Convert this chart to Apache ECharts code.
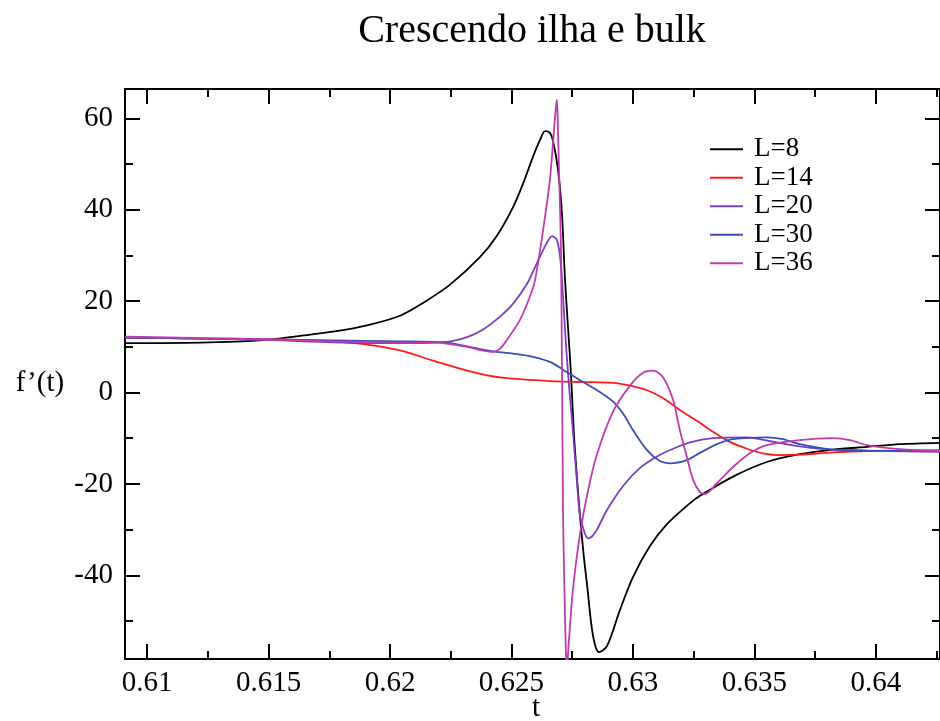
<!DOCTYPE html>
<html>
<head>
<meta charset="utf-8">
<script src="https://cdn.jsdelivr.net/npm/echarts@6/dist/echarts.min.js"></script>
<style>
  html, body { margin: 0; padding: 0; background: #fff; }
  #chart { width: 940px; height: 721px; }
</style>
</head>
<body>
<div id="chart"></div>
<script>
// Axis ranges and tick positions
const tMin = 0.60909, tMax = 0.64264;
const fMin = -58.3, fMax = 66.4;
const xMajorTicks = [0.61, 0.615, 0.62, 0.625, 0.63, 0.635, 0.64];
const xMinorTicks = [0.6125, 0.6175, 0.6225, 0.6275, 0.6325, 0.6375, 0.6425];
const yMajorTicks = [-40, -20, 0, 20, 40, 60];
const yMinorTicks = [-50, -30, -10, 10, 30, 50];

const seriesNames = ['L=8', 'L=14', 'L=20', 'L=30', 'L=36'];
const seriesColors = ['#000000', '#ff1a1a', '#7b3fc2', '#3b4db8', '#c03cac'];

// L=8
const tL8 = [0.60910, 0.61218, 0.61494, 0.61630, 0.61765, 0.61905, 0.62041, 0.62136, 0.62247, 0.62370,
  0.62440, 0.62506, 0.62547, 0.62588, 0.62617, 0.62638, 0.62658, 0.62671, 0.62691, 0.62708,
  0.62720, 0.62733, 0.62745, 0.62757, 0.62770, 0.62782, 0.62798, 0.62811, 0.62835, 0.62860,
  0.62893, 0.62947, 0.63000, 0.63070, 0.63140, 0.63235, 0.63276, 0.63412, 0.63551, 0.63687,
  0.63823, 0.63963, 0.64099, 0.64263];
const fL8 = [10.8, 10.9, 11.5, 12.4, 13.3, 14.7, 16.8, 19.6, 23.6, 29.6,
  34.3, 40.5, 45.6, 51.5, 55.2, 57.2, 56.8, 55.0, 49.0, 39.0,
  25.0, 14.0, 4.0, -9.0, -19.0, -27.0, -36.0, -42.0, -53.0, -56.8,
  -55.5, -47.5, -40.4, -33.6, -28.8, -24.2, -22.6, -18.4, -15.2, -13.5,
  -12.5, -11.9, -11.3, -11.0];

// L=14
const tL14 = [0.60910, 0.61218, 0.61494, 0.61630, 0.61765, 0.61905, 0.62041, 0.62177, 0.62317, 0.62453,
  0.62658, 0.62782, 0.62918, 0.62988, 0.63058, 0.63123, 0.63193, 0.63263, 0.63329, 0.63399,
  0.63469, 0.63535, 0.63605, 0.63687, 0.63823, 0.63963, 0.64263];
const fL14 = [12.0, 11.8, 11.7, 11.5, 11.2, 10.5, 9.2, 7.0, 4.8, 3.3,
  2.5, 2.3, 2.1, 1.5, 0.5, -1.2, -3.8, -6.2, -8.6, -10.8,
  -12.3, -13.3, -13.7, -13.6, -13.1, -12.8, -12.6];

// L=20
const tL20 = [0.60910, 0.61218, 0.61494, 0.61765, 0.62041, 0.62235, 0.62317, 0.62383, 0.62453, 0.62506,
  0.62564, 0.62609, 0.62646, 0.62667, 0.62687, 0.62700, 0.62708, 0.62720, 0.62733, 0.62749,
  0.62770, 0.62782, 0.62802, 0.62815, 0.62831, 0.62852, 0.62893, 0.62959, 0.63029, 0.63099,
  0.63165, 0.63235, 0.63329, 0.63469, 0.63551, 0.63687, 0.63823, 0.64263];
const fL20 = [12.0, 11.8, 11.5, 11.0, 10.8, 11.1, 12.1, 13.8, 16.6, 19.4,
  23.8, 28.8, 32.8, 34.2, 33.4, 29.6, 24.6, 14.0, 4.0, -6.0,
  -19.8, -27.0, -30.8, -31.9, -31.5, -30.0, -25.7, -20.5, -16.5, -14.0,
  -12.3, -10.9, -10.0, -9.8, -10.5, -11.8, -12.5, -13.0];

// L=30
const tL30 = [0.60910, 0.61218, 0.61494, 0.61765, 0.62041, 0.62177, 0.62247, 0.62317, 0.62424, 0.62523,
  0.62588, 0.62658, 0.62712, 0.62782, 0.62852, 0.62918, 0.62959, 0.63000, 0.63058, 0.63111,
  0.63152, 0.63222, 0.63276, 0.63346, 0.63412, 0.63551, 0.63617, 0.63687, 0.63823, 0.63963,
  0.64263];
const fL30 = [12.0, 11.8, 11.6, 11.4, 11.2, 11.1, 10.8, 10.1, 9.0, 8.4,
  7.8, 6.7, 5.0, 2.7, 0.5, -2.0, -4.6, -8.2, -12.6, -15.0,
  -15.5, -14.8, -13.2, -11.3, -10.2, -9.8, -10.2, -11.3, -12.5, -12.7,
  -12.8];

// L=36
const tL36 = [0.60910, 0.61218, 0.61494, 0.61765, 0.62041, 0.62177, 0.62247, 0.62317, 0.62370, 0.62424,
  0.62453, 0.62481, 0.62535, 0.62576, 0.62597, 0.62630, 0.62658, 0.62675, 0.62683, 0.62687,
  0.62691, 0.62695, 0.62700, 0.62704, 0.62708, 0.62712, 0.62716, 0.62720, 0.62724, 0.62728,
  0.62733, 0.62741, 0.62753, 0.62782, 0.62815, 0.62852, 0.62918, 0.62988, 0.63041, 0.63082,
  0.63123, 0.63165, 0.63193, 0.63222, 0.63247, 0.63276, 0.63296, 0.63346, 0.63412, 0.63481,
  0.63551, 0.63687, 0.63823, 0.63893, 0.63963, 0.64099, 0.64263];
const fL36 = [12.2, 11.9, 11.6, 11.2, 10.9, 10.9, 10.6, 10.0, 9.3, 8.9,
  9.6, 11.5, 15.9, 21.0, 24.6, 35.5, 46.5, 57.4, 62.5, 64.0,
  58.0, 50.0, 40.0, 30.0, 5.0, -25.0, -38.0, -48.0, -57.0, -62.0,
  -57.0, -51.0, -43.0, -31.0, -21.5, -13.5, -4.2, 1.5, 4.3, 4.8,
  3.4, -1.6, -8.2, -14.1, -19.0, -21.8, -22.2, -19.8, -16.3, -13.3,
  -11.5, -10.4, -10.0, -10.4, -11.5, -12.4, -12.8];

const tValues = [tL8, tL14, tL20, tL30, tL36];
const fValues = [fL8, fL14, fL20, fL30, fL36];

const FONT = 'Liberation Serif';
const axisColor = '#000';

function pairUp(ts, fs) {
  return ts.map((t, i) => [t, fs[i]]);
}

function xAxisDef(position, ticks, len, withLabels) {
  return {
    type: 'value', position: position, min: tMin, max: tMax,
    axisLine: { show: true, onZero: false, lineStyle: { color: axisColor, width: 2 } },
    axisTick: { show: true, inside: true, length: len, customValues: ticks,
      lineStyle: { color: axisColor, width: 2 } },
    axisLabel: withLabels
      ? { show: true, customValues: ticks, color: '#000', fontFamily: FONT, fontSize: 29, margin: 10 }
      : { show: false },
    splitLine: { show: false }
  };
}

function yAxisDef(position, ticks, len, withLabels) {
  return {
    type: 'value', position: position, min: fMin, max: fMax,
    axisLine: { show: true, onZero: false, lineStyle: { color: axisColor, width: 2 } },
    axisTick: { show: true, inside: true, length: len, customValues: ticks,
      lineStyle: { color: axisColor, width: 2 } },
    axisLabel: withLabels
      ? { show: true, customValues: ticks, color: '#000', fontFamily: FONT, fontSize: 29, margin: 12 }
      : { show: false },
    splitLine: { show: false }
  };
}

const chart = echarts.init(document.getElementById('chart'), null, { renderer: 'canvas' });

const option = {
  backgroundColor: '#ffffff',
  animation: false,
  grid: { left: 125, top: 89, right: 0, bottom: 62, containLabel: false },
  xAxis: [
    xAxisDef('bottom', xMajorTicks, 15, true),
    xAxisDef('bottom', xMinorTicks, 8, false),
    xAxisDef('top', xMajorTicks, 15, false),
    xAxisDef('top', xMinorTicks, 8, false)
  ],
  yAxis: [
    yAxisDef('left', yMajorTicks, 15, true),
    yAxisDef('left', yMinorTicks, 8, false),
    yAxisDef('right', yMajorTicks, 15, false),
    yAxisDef('right', yMinorTicks, 8, false)
  ],
  legend: {
    orient: 'vertical', left: 705, top: 130,
    icon: 'rect', itemWidth: 33, itemHeight: 2, itemGap: 0,
    textStyle: { fontFamily: FONT, fontSize: 27, color: '#000', lineHeight: 28.5, padding: [0, 0, 0, 6] },
    data: seriesNames
  },
  graphic: [
    { type: 'text', x: 532, y: 31,
      style: { text: 'Crescendo ilha e bulk', font: '40px "Liberation Serif"', fill: '#000',
        textAlign: 'center', textVerticalAlign: 'middle' } },
    { type: 'text', x: 40, y: 383,
      style: { text: 'f\u2019(t)', font: '29px "Liberation Serif"', fill: '#000',
        textAlign: 'center', textVerticalAlign: 'middle' } },
    { type: 'text', x: 536, y: 708,
      style: { text: 't', font: '29px "Liberation Serif"', fill: '#000',
        textAlign: 'center', textVerticalAlign: 'middle' } }
  ],
  series: seriesNames.map((name, i) => ({
    name: name,
    type: 'line',
    xAxisIndex: 0, yAxisIndex: 0,
    data: pairUp(tValues[i], fValues[i]),
    showSymbol: false, symbol: 'none',
    smooth: 0.3,
    clip: true,
    color: seriesColors[i],
    lineStyle: { color: seriesColors[i], width: 1.8 },
    z: 2 + i
  }))
};

chart.setOption(option);
</script>
</body>
</html>
